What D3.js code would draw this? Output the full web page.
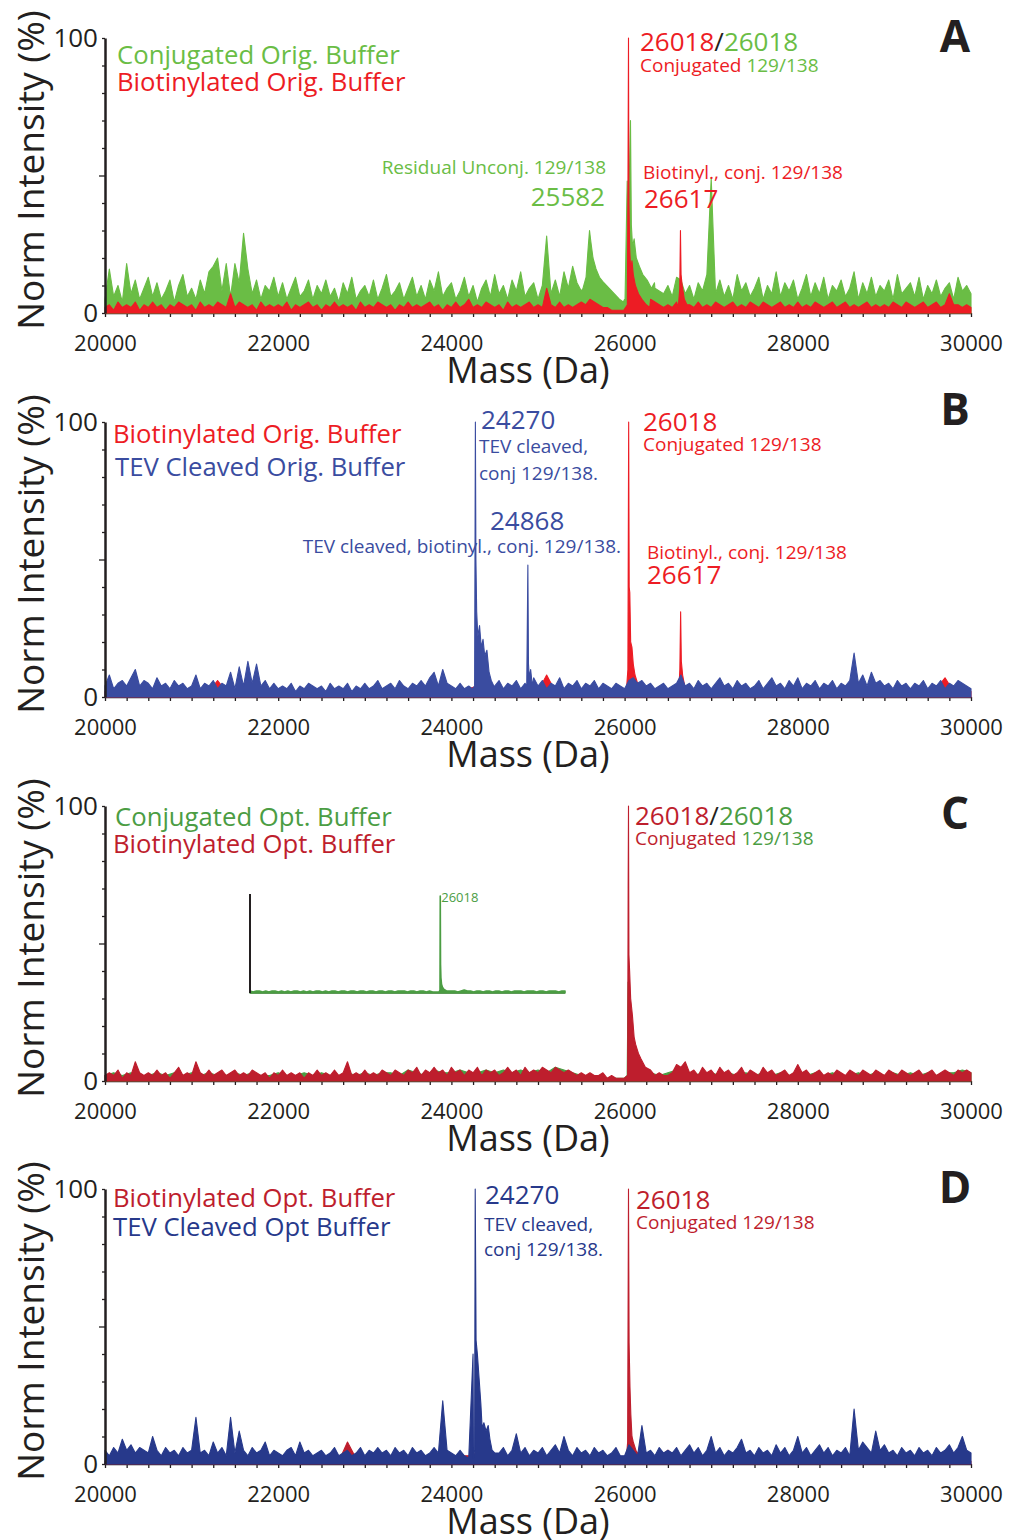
<!DOCTYPE html>
<html>
<head>
<meta charset="utf-8">
<script src="https://cdn.jsdelivr.net/npm/d3@7"></script>
<style>
  body { margin: 0; background: #fff; }
  svg { display: block; }
  text { white-space: pre; }
</style>
</head>
<body>
<script>
const width = 1009;
const height = 1540;
const font = "'Open Sans', 'Noto Sans', sans-serif";

const massMin = 20000;
const massMax = 30000;
const xTicks = d3.range(20000, 30001, 250);
const xLabels = [20000, 22000, 24000, 26000, 28000, 30000];
const yTicks = d3.range(0, 101, 10);

// spectra: intensity every 50 Da (or 100 Da for the hidden traces), starting at 20000
const greenA = [
  5, 16, 6, 10, 4, 18, 7, 12, 5, 9,
  13, 6, 11, 5, 8, 12, 4, 10, 14, 6,
  9, 5, 12, 7, 15, 17, 20, 8, 18, 6,
  18, 11, 29, 16, 7, 12, 5, 10, 8, 13,
  6, 11, 5, 9, 13, 6, 8, 12, 5, 10,
  7, 12, 6, 9, 4, 11, 7, 13, 5, 8,
  10, 6, 12, 5, 9, 14, 6, 8, 11, 5,
  9, 13, 6, 10, 5, 12, 8, 15, 6, 9,
  11, 5, 8, 13, 6, 10, 4, 9, 12, 6,
  14, 7, 10, 5, 12, 8, 15, 6, 9, 11,
  5, 10, 28, 7, 12, 6, 15, 9, 17, 11,
  8, 14, 30, 22, 15, 12, 10, 8, 7, 6,
  5, 70, 25, 20, 16, 13, 11, 9, 8, 7,
  10, 6, 13, 12, 7, 10, 5, 11, 8, 14,
  49, 7, 12, 6, 10, 5, 14, 8, 11, 6,
  9, 13, 5, 10, 7, 15, 6, 11, 8, 12,
  5, 9, 14, 6, 11, 7, 13, 5, 10, 8,
  12, 6, 9, 15, 5, 11, 7, 13, 6, 10,
  8, 12, 5, 14, 7, 9, 11, 6, 13, 5,
  10, 7, 12, 6, 9, 11, 5, 13, 8, 10,
  7
];
const redA = [
  2, 3, 1, 4, 2, 3, 2, 4, 1, 3,
  2, 4, 2, 3, 1, 3, 2, 4, 3, 2,
  3, 1, 4, 2, 3, 2, 4, 3, 2, 7,
  2, 4, 3, 2, 3, 1, 4, 2, 3, 2,
  3, 2, 4, 1, 3, 2, 3, 4, 2, 3,
  1, 3, 2, 4, 2, 3, 2, 3, 1, 4,
  2, 3, 2, 4, 3, 2, 3, 1, 3, 2,
  4, 2, 3, 2, 3, 4, 2, 3, 1, 3,
  2, 4, 2, 3, 5, 2, 3, 2, 4, 3,
  2, 3, 1, 4, 2, 3, 2, 3, 4, 2,
  3, 2, 9, 3, 2, 4, 2, 3, 2, 3,
  4, 3, 5, 4, 3, 2, 2, 1, 1, 1,
  1, 20, 18, 12, 8, 6, 5, 4, 3, 2,
  3, 2, 4, 30, 6, 3, 2, 4, 2, 3,
  2, 4, 3, 2, 3, 4, 2, 3, 2, 4,
  3, 2, 4, 3, 2, 3, 4, 2, 3, 2,
  4, 2, 3, 2, 4, 3, 2, 3, 4, 2,
  3, 4, 2, 3, 2, 3, 4, 2, 3, 2,
  3, 2, 4, 3, 2, 4, 3, 2, 3, 4,
  2, 3, 4, 2, 3, 7, 3, 3, 2, 3,
  2
];
const blueB = [
  4, 8, 3, 5, 6, 4, 7, 10, 4, 6,
  5, 3, 7, 4, 5, 3, 6, 4, 5, 3,
  4, 8, 3, 5, 4, 6, 3, 5, 4, 9,
  3, 11, 4, 13, 5, 12, 4, 6, 3, 5,
  3, 4, 3, 5, 2, 4, 3, 5, 4, 3,
  4, 2, 5, 3, 4, 3, 5, 2, 4, 3,
  5, 3, 4, 6, 3, 4, 5, 3, 6, 4,
  3, 5, 4, 6, 4, 7, 9, 4, 10, 5,
  4, 3, 5, 3, 4, 30, 18, 14, 8, 5,
  4, 6, 3, 5, 4, 6, 3, 5, 6, 7,
  4, 6, 3, 5, 4, 7, 3, 5, 4, 6,
  3, 5, 4, 6, 3, 5, 4, 3, 5, 4,
  3, 6, 7, 5, 6, 4, 5, 3, 4, 5,
  3, 4, 5, 8, 4, 5, 3, 6, 4, 5,
  3, 5, 7, 4, 5, 3, 6, 4, 5, 3,
  4, 6, 3, 5, 7, 4, 5, 3, 6, 4,
  7, 3, 5, 4, 6, 3, 5, 4, 6, 3,
  5, 4, 6, 16, 5, 8, 4, 9, 5, 6,
  4, 5, 3, 6, 4, 5, 3, 5, 4, 6,
  3, 5, 4, 6, 3, 5, 4, 6, 5, 4,
  3
];
const redB = [
  2, 1, 3, 2, 1, 2, 3, 1, 2, 2,
  3, 1, 2, 6, 2, 1, 3, 2, 1, 2,
  2, 3, 1, 2, 2, 1, 3, 2, 1, 2,
  1, 2, 3, 1, 2, 2, 1, 3, 2, 1,
  2, 1, 3, 4, 2, 1, 2, 1, 3, 2,
  2, 8, 2, 1, 3, 2, 1, 2, 2, 1,
  1, 8, 3, 2, 2, 1, 2, 3, 2, 1,
  2, 3, 1, 2, 2, 3, 1, 2, 2, 3,
  1, 2, 3, 2, 1, 2, 2, 3, 1, 2,
  2, 1, 3, 2, 2, 1, 3, 7, 2, 1,
  2
];
const redC = [
  2, 3, 2, 4, 1, 3, 2, 7, 3, 2,
  3, 2, 4, 2, 3, 1, 3, 5, 2, 3,
  2, 7, 3, 2, 4, 2, 3, 4, 2, 3,
  4, 2, 3, 2, 4, 3, 2, 3, 1, 3,
  2, 4, 2, 3, 2, 3, 1, 3, 2, 4,
  2, 3, 2, 4, 2, 3, 7, 2, 3, 2,
  4, 2, 3, 2, 4, 3, 2, 4, 3, 2,
  4, 3, 5, 2, 4, 3, 5, 3, 4, 2,
  5, 3, 4, 2, 4, 3, 5, 2, 4, 3,
  4, 2, 3, 5, 3, 4, 2, 5, 3, 4,
  3, 5, 4, 3, 5, 4, 3, 4, 3, 2,
  3, 2, 3, 2, 2, 3, 1, 2, 1, 1,
  1, 2, 2, 2, 2, 2, 2, 2, 3, 2,
  2, 3, 6, 5, 7, 3, 4, 2, 5, 3,
  4, 2, 5, 3, 4, 2, 3, 5, 2, 4,
  3, 2, 5, 3, 4, 2, 3, 4, 2, 3,
  6, 3, 4, 2, 3, 4, 2, 3, 2, 4,
  3, 2, 4, 3, 2, 4, 3, 2, 4, 3,
  2, 4, 3, 2, 4, 3, 2, 3, 4, 2,
  3, 4, 2, 3, 4, 3, 2, 4, 3, 4,
  3
];
const greenC = [
  2, 3, 2, 3, 2, 2, 3, 2, 3, 2,
  3, 2, 3, 2, 2, 3, 2, 3, 2, 2,
  3, 2, 2, 3, 2, 3, 2, 2, 3, 2,
  3, 2, 3, 3, 2, 4, 3, 2, 4, 3,
  3, 4, 3, 3, 4, 3, 4, 3, 4, 3,
  4, 3, 5, 4, 3, 2, 2, 2, 1, 1,
  1, 8, 8, 3, 2, 3, 4, 3, 2, 3,
  3, 2, 3, 2, 3, 2, 3, 2, 3, 2,
  3, 2, 3, 2, 3, 2, 2, 3, 2, 3,
  2, 3, 2, 3, 2, 3, 2, 3, 3, 4,
  3
];
const insetGreen = [
  2, 1, 2, 2, 1, 2, 1, 2, 2, 1,
  2, 1, 2, 1, 2, 2, 1, 2, 1, 2,
  1, 2, 2, 1, 2, 1, 2, 2, 1, 2,
  2, 1, 2, 2, 1, 2, 2, 1, 2, 2,
  1, 2, 2, 1, 2, 2, 1, 2, 2, 2,
  1, 2, 2, 1, 2, 2, 1, 2, 1, 1,
  1, 2, 3, 2, 2, 2, 1, 2, 3, 2,
  2, 1, 2, 2, 1, 2, 2, 1, 2, 2,
  1, 2, 2, 1, 2, 2, 2, 1, 2, 2,
  2, 1, 2, 2, 1, 2, 2, 2, 1, 2,
  2
];
const blueD = [
  5, 3, 6, 4, 9, 5, 7, 4, 6, 5,
  4, 10, 5, 3, 6, 4, 5, 3, 6, 4,
  5, 17, 4, 5, 3, 8, 4, 6, 3, 17,
  4, 12, 5, 3, 6, 4, 5, 8, 3, 5,
  4, 3, 5, 6, 3, 8, 4, 5, 3, 4,
  5, 3, 4, 6, 3, 4, 5, 3, 4, 6,
  3, 5, 4, 6, 4, 5, 3, 6, 4, 5,
  3, 6, 4, 5, 3, 4, 6, 4, 23, 5,
  4, 3, 5, 3, 2, 40, 30, 12, 8, 6,
  5, 4, 6, 3, 5, 11, 4, 6, 3, 5,
  4, 6, 3, 5, 7, 4, 10, 5, 3, 6,
  4, 5, 3, 6, 4, 5, 3, 4, 6, 3,
  3, 7, 5, 3, 14, 4, 5, 3, 6, 4,
  5, 4, 6, 3, 5, 7, 4, 6, 3, 5,
  10, 4, 6, 3, 5, 4, 6, 9, 4, 5,
  3, 6, 4, 5, 3, 7, 4, 6, 3, 5,
  10, 4, 6, 3, 5, 7, 4, 6, 3, 5,
  4, 6, 3, 20, 5, 8, 6, 4, 12, 5,
  7, 4, 5, 3, 6, 4, 5, 3, 6, 4,
  5, 3, 6, 4, 5, 7, 4, 6, 10, 5,
  4
];
const redD = [
  1, 2, 1, 2, 2, 1, 2, 1, 2, 1,
  2, 1, 2, 1, 2, 1, 3, 2, 1, 2,
  1, 2, 2, 1, 2, 1, 2, 1, 8, 2,
  1, 2, 1, 2, 3, 2, 1, 2, 2, 2,
  2, 3, 3, 4, 2, 2, 1, 2, 1, 2,
  1, 2, 2, 1, 2, 1, 2, 2, 1, 2,
  1, 8, 3, 2, 2, 5, 2, 1, 2, 1,
  2, 1, 2, 1, 2, 2, 1, 2, 1, 2,
  1, 2, 2, 1, 2, 1, 2, 3, 1, 2,
  2, 1, 2, 1, 2, 2, 1, 2, 1, 2,
  1
];

// peak profiles [mass, intensity]; they replace the noise over their mass range
const greenA25582 = [[25520, 9], [25555, 13], [25580, 24], [25595, 30], [25610, 26], [25635, 20], [25670, 16], [25710, 13], [25760, 11], [25820, 9], [25880, 7], [25940, 5], [25985, 4]];
const greenA26018 = [[26005, 5], [26030, 48], [26040, 22], [26052, 45], [26068, 70], [26078, 32], [26092, 24], [26110, 27], [26135, 20], [26170, 17], [26210, 14], [26260, 12], [26310, 9], [26345, 11]];
const redA26018 = [[25990, 1], [26032, 3], [26038, 40], [26045, 100], [26050, 40], [26058, 24], [26070, 16], [26085, 19], [26100, 14], [26125, 10], [26160, 7], [26200, 5], [26250, 3], [26290, 2]];
const redA26617 = [[26620, 2], [26637, 9], [26645, 30], [26652, 14], [26665, 10], [26690, 5], [26720, 3]];
const blueB24270 = [[24240, 3], [24268, 4], [24277, 100], [24283, 50], [24292, 31], [24305, 22], [24325, 26], [24345, 18], [24365, 21], [24385, 15], [24410, 17], [24435, 9], [24460, 6], [24490, 4]];
const blueB24868 = [[24870, 4], [24883, 48], [24890, 12], [24900, 7], [24915, 10], [24935, 4]];
const redB26018 = [[26020, 2], [26038, 10], [26047, 100], [26053, 40], [26060, 38], [26070, 20], [26085, 18], [26100, 12], [26120, 8], [26150, 5], [26200, 3]];
const redB26617 = [[26625, 2], [26638, 10], [26647, 31], [26655, 13], [26670, 8], [26700, 3]];
const redC26018 = [[25995, 1], [26035, 2], [26041, 70], [26045, 100], [26050, 46], [26058, 40], [26070, 30], [26090, 24], [26110, 16], [26130, 13], [26160, 10], [26190, 8], [26240, 5], [26300, 4], [26350, 2]];
const greenC26018 = [[26030, 2], [26040, 36], [26050, 30], [26065, 20], [26090, 12], [26120, 8], [26160, 5], [26220, 3], [26280, 2]];
const inset26018 = [[26000, 1], [26032, 3], [26040, 100], [26048, 30], [26060, 16], [26080, 9], [26110, 6], [26150, 4], [26200, 3], [26250, 2]];
const blueD24270 = [[24255, 2], [24268, 5], [24275, 100], [24285, 45], [24300, 40], [24320, 31], [24340, 22], [24355, 13], [24375, 15], [24400, 12], [24425, 14], [24445, 9], [24470, 5], [24500, 4]];
const redD26018 = [[26020, 2], [26035, 8], [26045, 100], [26052, 44], [26062, 28], [26072, 18], [26085, 10], [26100, 8], [26130, 5], [26170, 3], [26220, 2]];

const ink = "#231f20";
const lightGreen = "#6abd45";
const red = "#ed1c24";
const blue = "#3a4ca0";
const green = "#4b9d43";
const darkRed = "#be1e2d";
const navy = "#27398b";

function buildSeries(values, step, peaks) {
  let pts = values.map((v, i) => [massMin + i * step, v]);
  peaks.forEach((p) => {
    let lo = p[0][0];
    let hi = p[p.length - 1][0];
    pts = pts.filter((d) => d[0] < lo || d[0] > hi).concat(p);
  });
  return pts.sort((a, b) => a[0] - b[0]);
}

const legendSize = 25.7;

const panels = [
  {
    letter: "A", top: 38, letterDy: 14,
    series: [
      { values: greenA, step: 50, peaks: [greenA25582, greenA26018], color: lightGreen },
      { values: redA, step: 50, peaks: [redA26018, redA26617], color: red },
    ],
    notes: [
      { x: 117, dy: 26, size: legendSize, parts: [["Conjugated Orig. Buffer", lightGreen]] },
      { x: 117, dy: 53, size: legendSize, parts: [["Biotinylated Orig. Buffer", red]] },
      { x: 640, dy: 13, size: 26, parts: [["26018", red], ["/", ink], ["26018", lightGreen]] },
      { x: 640, dy: 34, size: 19, parts: [["Conjugated", red], [" 129/138", lightGreen]] },
      { x: 606, dy: 136, size: 19, anchor: "end", parts: [["Residual Unconj. 129/138", lightGreen]] },
      { x: 605, dy: 168, size: 26, anchor: "end", parts: [["25582", lightGreen]] },
      { x: 643, dy: 141, size: 19, parts: [["Biotinyl., conj. 129/138", red]] },
      { x: 644, dy: 170, size: 26, parts: [["26617", red]] },
    ],
  },
  {
    letter: "B", top: 422, letterDy: 3,
    series: [
      { values: redB, step: 100, peaks: [redB26018, redB26617], color: red },
      { values: blueB, step: 50, peaks: [blueB24270, blueB24868], color: blue },
    ],
    notes: [
      { x: 113, dy: 21, size: legendSize, parts: [["Biotinylated Orig. Buffer", red]] },
      { x: 115, dy: 54, size: legendSize, parts: [["TEV Cleaved Orig. Buffer", blue]] },
      { x: 481, dy: 7, size: 26, parts: [["24270", blue]] },
      { x: 479, dy: 31, size: 19, parts: [["TEV cleaved,", blue]] },
      { x: 479, dy: 58, size: 19, parts: [["conj 129/138.", blue]] },
      { x: 490, dy: 108, size: 26, parts: [["24868", blue]] },
      { x: 621, dy: 131, size: 19, anchor: "end", parts: [["TEV cleaved, biotinyl., conj. 129/138.", blue]] },
      { x: 643, dy: 9, size: 26, parts: [["26018", red]] },
      { x: 643, dy: 29, size: 19, parts: [["Conjugated 129/138", red]] },
      { x: 647, dy: 137, size: 19, parts: [["Biotinyl., conj. 129/138", red]] },
      { x: 647, dy: 162, size: 26, parts: [["26617", red]] },
    ],
  },
  {
    letter: "C", top: 806, letterDy: 23,
    series: [
      { values: greenC, step: 100, peaks: [greenC26018], color: green },
      { values: redC, step: 50, peaks: [redC26018], color: darkRed },
    ],
    notes: [
      { x: 115, dy: 20, size: legendSize, parts: [["Conjugated Opt. Buffer", green]] },
      { x: 113, dy: 47, size: legendSize, parts: [["Biotinylated Opt. Buffer", darkRed]] },
      { x: 635, dy: 19, size: 26, parts: [["26018", darkRed], ["/", ink], ["26018", green]] },
      { x: 635, dy: 39, size: 19, parts: [["Conjugated", darkRed], [" 129/138", green]] },
    ],
    inset: { values: insetGreen, step: 100, peaks: [inset26018], color: green, label: "26018" },
  },
  {
    letter: "D", top: 1189, letterDy: 14,
    series: [
      { values: redD, step: 100, peaks: [redD26018], color: darkRed },
      { values: blueD, step: 50, peaks: [blueD24270], color: navy },
    ],
    notes: [
      { x: 113, dy: 18, size: legendSize, parts: [["Biotinylated Opt. Buffer", darkRed]] },
      { x: 113, dy: 47, size: legendSize, parts: [["TEV Cleaved Opt Buffer", navy]] },
      { x: 485, dy: 15, size: 26, parts: [["24270", navy]] },
      { x: 484, dy: 42, size: 19, parts: [["TEV cleaved,", navy]] },
      { x: 484, dy: 67, size: 19, parts: [["conj 129/138.", navy]] },
      { x: 636, dy: 20, size: 26, parts: [["26018", darkRed]] },
      { x: 636, dy: 40, size: 19, parts: [["Conjugated 129/138", darkRed]] },
    ],
  },
];

let svg = d3
  .select("body")
  .append("svg")
  .attr("width", width)
  .attr("height", height)
  .style("font-family", font);

let x = d3.scaleLinear().domain([massMin, massMax]).range([105, 971]);

function addText(g, t, top) {
  let el = g
    .append("text")
    .attr("x", t.x)
    .attr("y", top + t.dy)
    .attr("text-anchor", t.anchor || "start")
    .style("font-size", `${t.size}px`);
  t.parts.forEach(([str, col]) => el.append("tspan").text(str).attr("fill", col));
}

panels.forEach((p) => {
  let y = d3.scaleLinear().domain([0, 100]).range([p.top + 275, p.top]);
  let g = svg.append("g").attr("class", `panel-${p.letter}`);

  // x axis under the traces
  let xAxis = d3
    .axisBottom(x)
    .tickValues(xTicks)
    .tickSize(4)
    .tickSizeOuter(0)
    .tickFormat((d) => (xLabels.includes(d) ? d : ""));
  let gx = g
    .append("g")
    .attr("transform", `translate(0, ${y(0)})`)
    .call(xAxis)
    .attr("font-family", font)
    .attr("font-size", 22);
  gx.select(".domain").attr("stroke", ink).attr("stroke-width", 1.5);
  gx.selectAll(".tick line").attr("stroke", ink).attr("stroke-width", 1.3);
  gx.selectAll(".tick text").attr("y", 38).attr("dy", 0).attr("fill", ink);

  let area = d3
    .area()
    .x((d) => x(d[0]))
    .y0(y(0))
    .y1((d) => y(d[1]));

  p.series.forEach((s) => {
    g.append("path")
      .datum(buildSeries(s.values, s.step, s.peaks))
      .attr("d", area)
      .attr("fill", s.color)
      .attr("stroke", s.color)
      .attr("stroke-width", 1.1)
      .attr("stroke-linejoin", "round");
  });

  // y axis
  let yAxis = d3
    .axisLeft(y)
    .tickValues(yTicks)
    .tickSize(3)
    .tickSizeOuter(0)
    .tickPadding(4)
    .tickFormat((d) => (d === 0 || d === 100 ? d : ""));
  let gy = g
    .append("g")
    .attr("transform", `translate(${x(massMin)}, 0)`)
    .call(yAxis)
    .attr("font-family", font)
    .attr("font-size", 26);
  gy.select(".domain").attr("stroke", ink).attr("stroke-width", 2.5);
  gy.selectAll(".tick line")
    .attr("stroke", ink)
    .attr("stroke-width", 1.3)
    .attr("x2", (d) => (d === 50 ? -6 : -3));
  gy.selectAll(".tick text").attr("fill", ink);

  // axis titles
  g.append("text")
    .text("Norm Intensity (%)")
    .attr("fill", ink)
    .attr("text-anchor", "middle")
    .style("font-size", "37px")
    .attr("transform", `translate(44, ${p.top + 132}) rotate(-90)`);

  g.append("text")
    .text("Mass (Da)")
    .attr("fill", ink)
    .attr("text-anchor", "middle")
    .style("font-size", "36px")
    .attr("x", 528)
    .attr("y", y(0) + 70);

  g.append("text")
    .text(p.letter)
    .attr("fill", ink)
    .attr("text-anchor", "middle")
    .style("font-size", "44px")
    .style("font-weight", "bold")
    .attr("x", 955)
    .attr("y", p.top + p.letterDy);

  p.notes.forEach((t) => addText(g, t, p.top));

  if (p.inset) {
    let ix = d3.scaleLinear().domain([massMin, massMax]).range([250, 565]);
    let iy = d3.scaleLinear().domain([0, 100]).range([993, 896]);
    g.append("line")
      .attr("x1", ix(massMin)).attr("x2", ix(massMax))
      .attr("y1", iy(0)).attr("y2", iy(0))
      .attr("stroke", ink).attr("stroke-width", 1.2);
    let insetArea = d3
      .area()
      .x((d) => ix(d[0]))
      .y0(iy(0))
      .y1((d) => iy(d[1]));
    g.append("path")
      .datum(buildSeries(p.inset.values, p.inset.step, p.inset.peaks))
      .attr("d", insetArea)
      .attr("fill", p.inset.color)
      .attr("stroke", p.inset.color)
      .attr("stroke-width", 1.6)
      .attr("stroke-linejoin", "round");
    g.append("line")
      .attr("x1", ix(massMin)).attr("x2", ix(massMin))
      .attr("y1", iy(0)).attr("y2", iy(100) - 2)
      .attr("stroke", ink).attr("stroke-width", 2);
    g.append("text")
      .text(p.inset.label)
      .attr("fill", p.inset.color)
      .style("font-size", "13px")
      .attr("x", ix(26040) + 1)
      .attr("y", iy(100) + 6);
  }
});
</script>
</body>
</html>
